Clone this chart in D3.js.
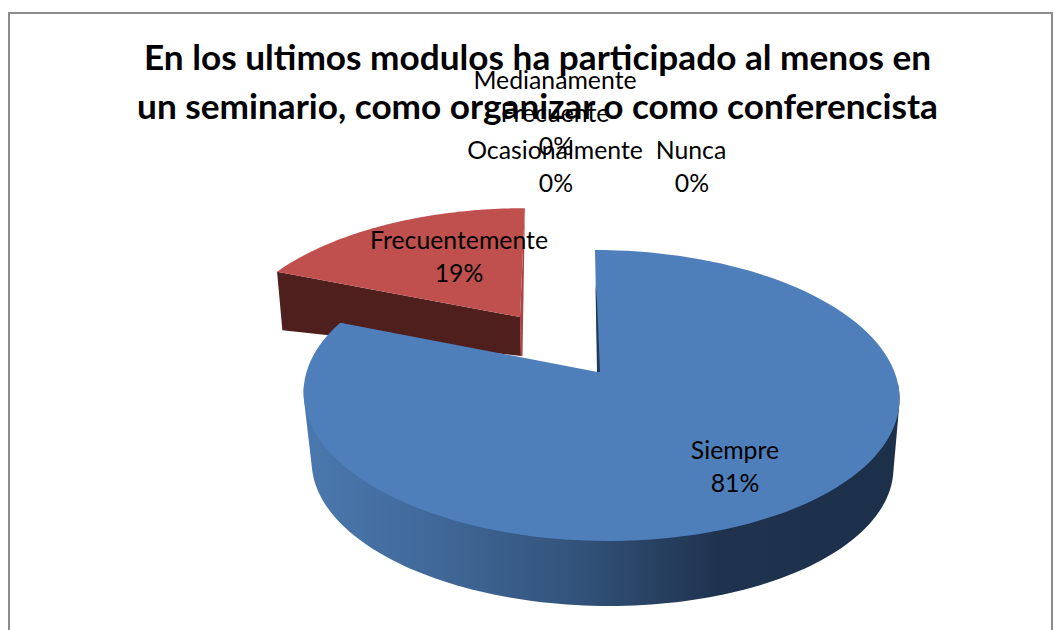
<!DOCTYPE html>
<html><head><meta charset="utf-8">
<style>html,body{margin:0;padding:0;background:#fff}svg{display:block}</style>
<script src="https://cdnjs.cloudflare.com/ajax/libs/d3/7.8.5/d3.min.js"></script>
</head><body><svg id="c" width="1055" height="630"></svg>
<script>
const titleLines = ["En los ultimos modulos ha participado al menos en","un seminario, como organizar o como conferencista"];
const categories = ["Siempre","Frecuentemente","Ocasionalmente","Medianamente Frecuente","Nunca"];
const values = [81,19,0,0,0];

const svg = d3.select("#c");
const FONT = "Lato, 'Open Sans', sans-serif";
const defs = svg.append("defs");
const g = defs.append("linearGradient").attr("id","side").attr("gradientUnits","userSpaceOnUse")
  .attr("x1",305).attr("x2",895).attr("y1",0).attr("y2",0);
[[0,"#4a78ae"],[0.2,"#416a9b"],[0.45,"#33547c"],[0.7,"#1f334f"],[1,"#1d304a"]].forEach(s=>g.append("stop").attr("offset",s[0]).attr("stop-color",s[1]));

svg.append("rect").attr("x",9).attr("y",13).attr("width",1043).attr("height",640).attr("fill","#fff").attr("stroke","#8c8c8c").attr("stroke-width",2);

const pie = d3.pie().sort(null).value(d=>d).startAngle(0).endAngle(2*Math.PI);
const arcs = pie(values);

// perspective projection of a disc
function proj(o){ return t=>{
  const u=Math.sin(t), v=-Math.cos(t), den=1-o.p*v;
  return [o.x+(o.r*u+o.s*v)/den, o.y+o.b*v/den];
};}
const topBlue={x:600.5,y:372,r:294,b:141.7,p:.1615,s:6.4};
const botBlue={x:601.5,y:442,r:287,b:137.5,p:.1615,s:6.4};
const topRed={x:520,y:317,r:285,b:133,p:.222,s:-6};
const botRed={x:521,y:356,r:280,b:76,p:.222,s:-6};

function samples(a,b){return d3.range(0,121).map(i=>a+(b-a)*i/120);}
const line=d3.line();

// red slice (index 1)
const red=arcs[1];
const rt=samples(red.startAngle,red.endAngle).map(proj(topRed));
const rp0=proj(topRed)(red.startAngle), rb0=proj(botRed)(red.startAngle);
const rpEnd=proj(topRed)(red.endAngle);
svg.append("path").attr("fill","#4f1f1d").attr("d",line([rp0,rb0,[521,356],[520,317]])+"Z");
svg.append("path").attr("fill","#a84543").attr("d",line([rpEnd,[522.5,356],[520.5,356],[520,317]])+"Z");
svg.append("path").attr("fill","#c0504d").attr("d",line([[520,317],...rt])+"Z");

// blue slice (index 0): the wall only shows on the near half of the disc
const blue=arcs[0];
const ts=samples(95*Math.PI/180,265*Math.PI/180);
const hull=d3.polygonHull([...ts.map(proj(topBlue)),...ts.map(proj(botBlue))]);
svg.append("path").attr("fill","url(#side)").attr("d",line(hull)+"Z");
const bt=samples(blue.startAngle,blue.endAngle).map(proj(topBlue));
svg.append("path").attr("fill","#4f7fbb").attr("d",line([[597.5,372],...bt])+"Z");
svg.append("path").attr("fill","#1f3a5c").attr("d",line([[595.5,285],[597,372],[600,372],[597,300]])+"Z");

// title
svg.append("g").selectAll("text").data(titleLines).join("text")
  .attr("x",537.5).attr("y",(d,i)=>70+i*49).attr("text-anchor","middle")
  .attr("font-family",FONT).attr("font-weight",700).attr("font-size",35.2).attr("fill","#000").text(d=>d);

// data labels
const labelPos=[{x:735,y:459},{x:459,y:249},{x:555,y:159},{x:555,y:89},{x:691,y:159}];
const dy=33;
categories.forEach((c,i)=>{
  const parts=c.split(" ");
  const lines=i===3?[...parts,values[i]+"%"]:[c,values[i]+"%"];
  lines.forEach((t,j)=>svg.append("text")
    .attr("x",labelPos[i].x+(j==lines.length-1&&i>=2?1:0)).attr("y",labelPos[i].y+j*dy)
    .attr("text-anchor","middle").attr("font-family",FONT).attr("font-size",24.8).attr("fill","#000").text(t));
});
</script></body></html>
